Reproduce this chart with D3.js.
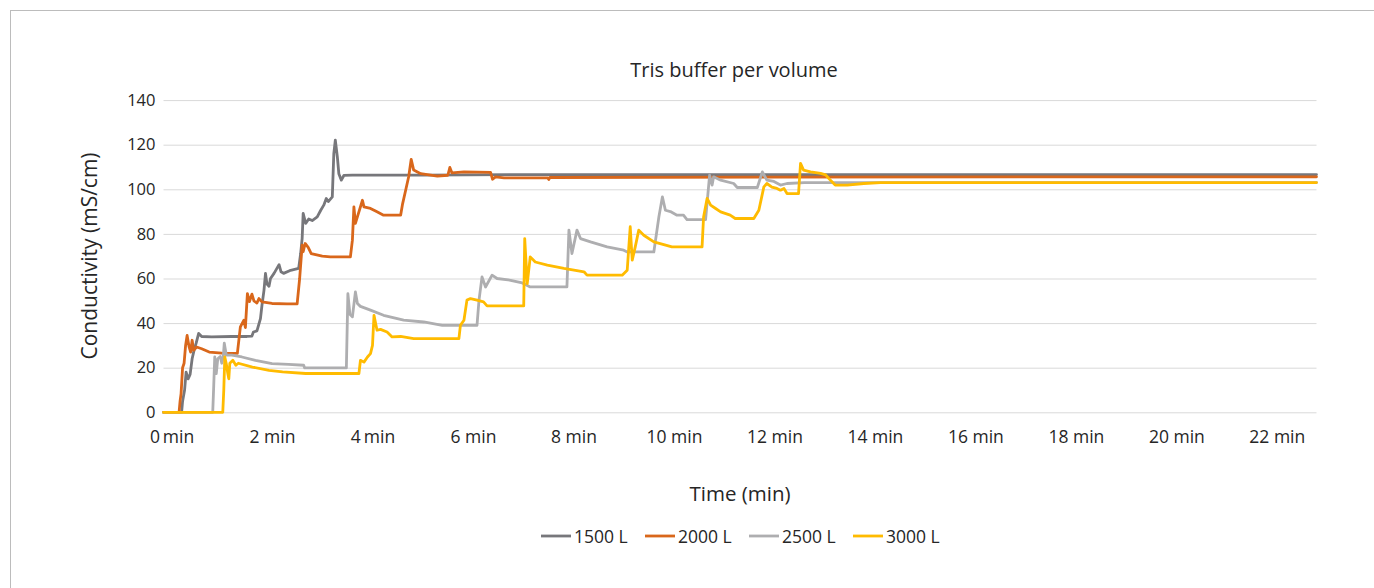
<!DOCTYPE html>
<html>
<head>
<meta charset="utf-8">
<script src="https://cdn.jsdelivr.net/npm/d3@7"></script>
<style>
  html, body { margin: 0; padding: 0; background: #fff; }
  svg { display: block; font-family: "Open Sans", "Noto Sans", sans-serif; }
</style>
</head>
<body>
<svg id="chart" width="1374" height="588"></svg>
<script>
// ---------- data ----------
const title = "Tris buffer per volume";
const yTitle = "Conductivity (mS/cm)";
const xTitle = "Time (min)";
const seriesNames = ["1500 L", "2000 L", "2500 L", "3000 L"];
const seriesColors = ["#77777b", "#d9671b", "#aeaeb0", "#ffbb00"];
const yTicks = [0, 20, 40, 60, 80, 100, 120, 140];
const xTicks = [0, 2, 4, 6, 8, 10, 12, 14, 16, 18, 20, 22];
const xTickLabels = ["0\u2009min", "2 min", "4\u2009min", "6 min", "8 min", "10 min", "12 min", "14 min", "16 min", "18 min", "20 min", "22 min"];
const xDomain = [-0.16, 22.79];
const yDomain = [0, 140];

// [time (min), conductivity (mS/cm)]
const s1500 = [[-0.16,0],[0.20,0],[0.22,5],[0.26,10],[0.29,18],[0.33,15],[0.37,17],[0.41,24],[0.45,28],[0.49,31],[0.54,35.4],[0.60,34],[0.8,33.8],[1.2,34],[1.5,34],[1.60,34.2],[1.63,36],[1.70,36.5],[1.74,39.7],[1.77,42],[1.80,48],[1.84,54.7],[1.87,62.3],[1.90,57.5],[1.94,56.5],[1.97,60],[2.04,62.3],[2.14,66.2],[2.18,63],[2.23,62.3],[2.35,63.5],[2.53,64.5],[2.57,71.2],[2.60,78],[2.62,89.2],[2.67,84.7],[2.73,86.7],[2.80,86],[2.90,87.6],[2.97,90.6],[3.03,92.9],[3.08,95.9],[3.12,94.5],[3.20,96.6],[3.23,116],[3.26,122],[3.30,114.6],[3.33,107],[3.38,104.1],[3.43,106.2],[3.6,106.4],[5.0,106.4],[7.0,106.6],[12.0,106.6],[22.79,106.6]];
const s2000 = [[-0.16,0],[0.15,0],[0.17,5],[0.19,8.4],[0.22,20],[0.25,22],[0.28,30],[0.31,34.5],[0.35,29.3],[0.38,27],[0.41,32.3],[0.44,27.8],[0.50,29.3],[0.60,28.5],[0.75,27],[1.0,26.5],[1.31,26.4],[1.37,38.3],[1.44,41.3],[1.47,38],[1.51,53.2],[1.55,49.6],[1.60,53],[1.64,50],[1.70,49],[1.74,51],[1.80,49.5],[2.0,48.8],[2.3,48.6],[2.50,48.6],[2.55,60],[2.60,75],[2.62,72],[2.66,75.7],[2.72,74],[2.78,71.2],[3.0,70],[3.16,69.7],[3.56,69.7],[3.60,77.2],[3.63,92.1],[3.66,84.7],[3.71,88.4],[3.80,95.1],[3.83,92.1],[3.96,91.4],[4.09,89.9],[4.22,88.4],[4.56,88.4],[4.60,93.6],[4.66,99.6],[4.72,105.6],[4.77,113.4],[4.82,108.6],[4.96,107],[5.29,105.9],[5.50,106.3],[5.54,109.8],[5.58,107.4],[5.82,107.8],[6.35,107.6],[6.39,104.5],[6.45,105.6],[6.62,105.1],[7.49,105.1],[7.51,104.4],[7.53,105.3],[12.0,105.5],[22.79,105.6]];
const s2500 = [[-0.16,0],[0.82,0],[0.84,12],[0.86,24.8],[0.89,17.4],[0.92,24],[0.97,25],[1.00,22],[1.03,25],[1.05,31],[1.09,25.6],[1.2,25.6],[1.40,24.8],[1.67,23.3],[2.0,21.8],[2.33,21.5],[2.63,21.1],[2.65,19.9],[3.48,19.9],[3.51,53.2],[3.55,44],[3.60,42.8],[3.66,54],[3.70,48.8],[3.76,47.5],[3.96,45.8],[4.22,43.5],[4.62,41.3],[5.02,40.5],[5.39,39],[6.08,39],[6.12,50.3],[6.18,60.7],[6.25,56.2],[6.38,61.5],[6.48,60],[6.75,59.2],[6.98,58],[7.14,56.2],[7.87,56.2],[7.91,81.7],[7.97,71.2],[8.07,81.7],[8.14,77.9],[8.34,76.4],[8.67,74.2],[9.00,72.7],[9.07,71.9],[9.60,71.9],[9.70,87.6],[9.77,96.6],[9.83,90.6],[9.93,90],[10.06,88.4],[10.19,88.4],[10.26,86.4],[10.63,86.4],[10.71,106.3],[10.76,101.9],[10.79,105.6],[10.93,104.1],[11.19,102.6],[11.26,100.8],[11.66,100.8],[11.76,107.8],[11.85,104.1],[11.99,103.5],[12.12,101.9],[12.25,102.6],[12.6,103],[22.79,103]];
const s3000 = [[-0.16,0],[1.02,0],[1.04,10],[1.06,24.8],[1.09,21.8],[1.12,17.4],[1.14,15],[1.16,22],[1.22,23.3],[1.28,21.1],[1.33,22],[1.61,20.3],[1.94,18.8],[2.21,18.1],[2.67,17.4],[3.73,17.4],[3.76,23.3],[3.83,22.5],[3.90,24.8],[3.96,26.3],[4.00,30],[4.03,43.5],[4.09,36.8],[4.16,37.2],[4.29,36],[4.39,33.8],[4.56,34],[4.82,33],[5.72,33],[5.75,39],[5.82,41.3],[5.88,50.3],[5.95,51],[6.08,50.3],[6.21,49.5],[6.28,47.7],[7.01,47.7],[7.03,77.9],[7.08,57.7],[7.14,69.7],[7.24,67.4],[7.48,66],[7.81,64.5],[8.21,63],[8.27,61.5],[8.97,61.5],[9.07,63.7],[9.13,83.2],[9.17,68.2],[9.23,74.2],[9.30,81.7],[9.40,79.4],[9.60,76.4],[9.96,74.2],[10.56,74.2],[10.59,87.6],[10.66,95.9],[10.73,92.9],[10.83,91.4],[10.93,89.9],[11.12,88.4],[11.22,86.9],[11.59,86.9],[11.69,90.6],[11.79,101.1],[11.85,102.6],[11.95,101],[12.05,100.4],[12.12,99.6],[12.19,100.4],[12.25,98.1],[12.48,98.1],[12.52,111.6],[12.58,108.6],[12.72,107.8],[12.92,107.1],[13.02,106.5],[13.08,104.9],[13.18,102.6],[13.21,101.9],[13.45,101.9],[13.78,102.6],[14.11,103],[22.79,103]];
const seriesData = [s1500, s2000, s2500, s3000];

// ---------- drawing ----------
const svg = d3.select("#chart");
const plot = { left: 163.5, right: 1316.5, top: 100.1, bottom: 412.3 };

const x = d3.scaleLinear().domain(xDomain).range([plot.left, plot.right]);
const y = d3.scaleLinear().domain(yDomain).range([plot.bottom, plot.top]);

// outer border
svg.append("rect")
  .attr("x", 10.5).attr("y", 10.5)
  .attr("width", 1420).attr("height", 620)
  .attr("fill", "none").attr("stroke", "#bcbcbc").attr("stroke-width", 1);

// title
svg.append("text")
  .attr("x", 734).attr("y", 77)
  .attr("text-anchor", "middle")
  .attr("font-size", 20).attr("fill", "#262626")
  .text(title);

// y gridlines + labels via axis
const yAxis = d3.axisLeft(y).tickValues(yTicks).tickSize(-(plot.right - plot.left)).tickPadding(8);
const gy = svg.append("g").attr("transform", `translate(${plot.left},0)`).call(yAxis);
gy.select(".domain").remove();
gy.selectAll(".tick line").attr("stroke", "#d9d9d9").attr("stroke-width", 1);
gy.selectAll(".tick text").attr("font-size", 16.5).attr("fill", "#262626").attr("font-family", "'Open Sans', sans-serif");

// x axis labels
const xAxis = d3.axisBottom(x).tickValues(xTicks).tickSize(0).tickPadding(18)
  .tickFormat((d, i) => xTickLabels[i]);
const gx = svg.append("g").attr("transform", `translate(0,${plot.bottom})`).call(xAxis);
gx.select(".domain").remove();
gx.selectAll(".tick text").attr("font-size", 17.5).attr("fill", "#262626").attr("font-family", "'Open Sans', sans-serif");

// axis titles
svg.append("text")
  .attr("transform", `translate(97,256) rotate(-90)`)
  .attr("text-anchor", "middle")
  .attr("font-size", 21).attr("fill", "#262626")
  .text(yTitle);
svg.append("text")
  .attr("x", 740).attr("y", 501)
  .attr("text-anchor", "middle")
  .attr("font-size", 20.5).attr("fill", "#262626")
  .text(xTitle);

// lines (later series drawn on top)
const line = d3.line().x(d => x(d[0])).y(d => y(d[1])).curve(d3.curveLinear);
svg.append("g").selectAll("path")
  .data(seriesData)
  .join("path")
  .attr("d", d => line(d))
  .attr("fill", "none")
  .attr("stroke", (d, i) => seriesColors[i])
  .attr("stroke-width", 2.8)
  .attr("stroke-linejoin", "round")
  .attr("stroke-linecap", "round");

// legend
const legendX = [541, 645, 749, 853];
const lg = svg.append("g");
seriesNames.forEach((name, i) => {
  const g = lg.append("g").attr("transform", `translate(${legendX[i]},536)`);
  g.append("line").attr("x1", 0).attr("x2", 30).attr("y1", 0).attr("y2", 0)
    .attr("stroke", seriesColors[i]).attr("stroke-width", 2.8);
  g.append("text").attr("x", 33).attr("y", 6.5)
    .attr("font-size", 17.5).attr("fill", "#262626")
    .text(name);
});
</script>
</body>
</html>
